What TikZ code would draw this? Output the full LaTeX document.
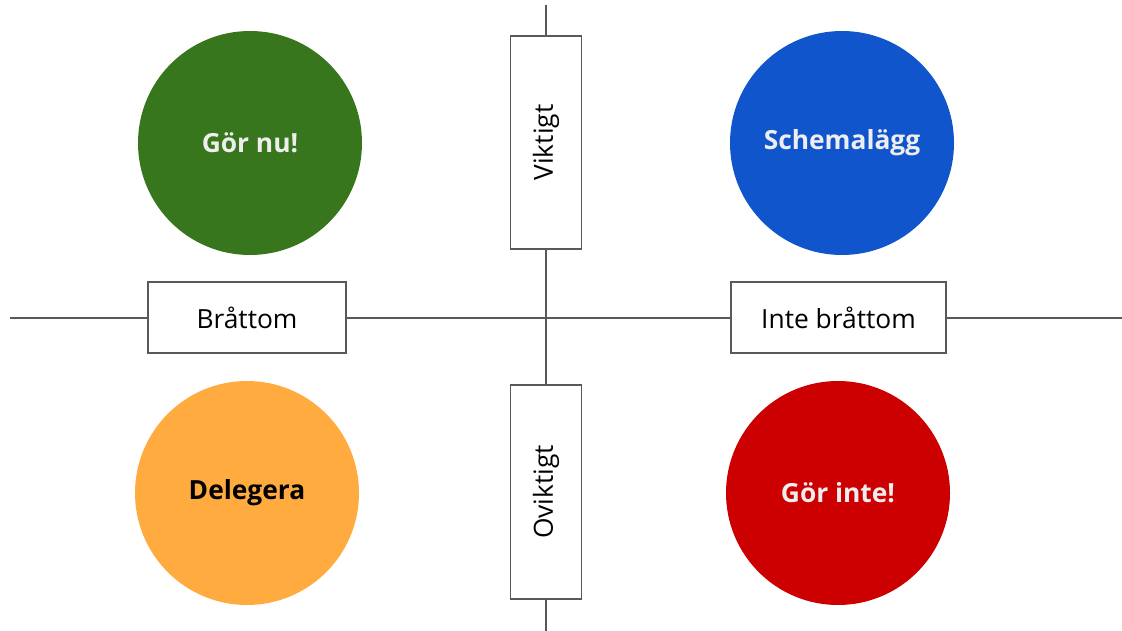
\documentclass[tikz,border=0pt]{standalone}
\usepackage{fontspec}
\setmainfont{Open Sans}
\usepackage{tikz}
\usetikzlibrary{positioning}
\definecolor{axisgray}{HTML}{595959}
\definecolor{nugreen}{HTML}{38761D}
\definecolor{planblue}{HTML}{1155CC}
\definecolor{delorange}{HTML}{FFAB40}
\definecolor{notred}{HTML}{CC0000}
\definecolor{offwhite}{HTML}{EEEEEE}

\begin{document}
\begin{tikzpicture}[
    x=0.02cm, y=-0.02cm,
    % Styles
    axis/.style={% The two axis lines
        draw=axisgray,
        line width=1pt,
        },
    tag/.style={% Boxes on the axes
        rectangle,
        draw=axisgray,
        line width=1pt,
        fill=white,
        font=\fontsize{15}{18}\selectfont,
        inner sep=0pt,
        },
    quad/.style={% The four circles
        circle,
        minimum size=224*0.02cm,
        inner sep=0pt,
        font=\bfseries\fontsize{15}{18}\selectfont,
        text=offwhite,
        },
    ]

    % Canvas
    \useasboundingbox (0,0) rectangle (1122,631);

    % Axis ends
    \coordinate (west) at (10,318);
    \coordinate (east) at (1122,318);
    \coordinate (north) at (546,5);
    \coordinate (south) at (546,631);

    \draw [axis] (west) -- (east);
    \draw [axis] (north) -- (south);

    % Axis labels
    \node [tag, minimum width=213*0.02cm, minimum height=71*0.02cm, rotate=90] (imp) at (546,142.5) {Viktigt};
    \node [tag, minimum width=214*0.02cm, minimum height=71*0.02cm, rotate=90] (unimp) at (546,492) {Oviktigt};
    \node [tag, minimum width=198*0.02cm, minimum height=71*0.02cm] (urg) at (247,317.5) {Bråttom};
    \node [tag, minimum width=215*0.02cm, minimum height=71*0.02cm] (nurg) at (838.5,317.5) {Inte bråttom};

    % Quadrants
    \node [quad, fill=nugreen] (donow) at (250,143) {Gör nu!};
    \node [quad, fill=planblue] (plan) at (842,143) {Schemalägg};
    \node [quad, fill=delorange, text=black] (deleg) at (247,493) {Delegera};
    \node [quad, fill=notred] (dont) at (838,493) {Gör inte!};

\end{tikzpicture}
\end{document}
